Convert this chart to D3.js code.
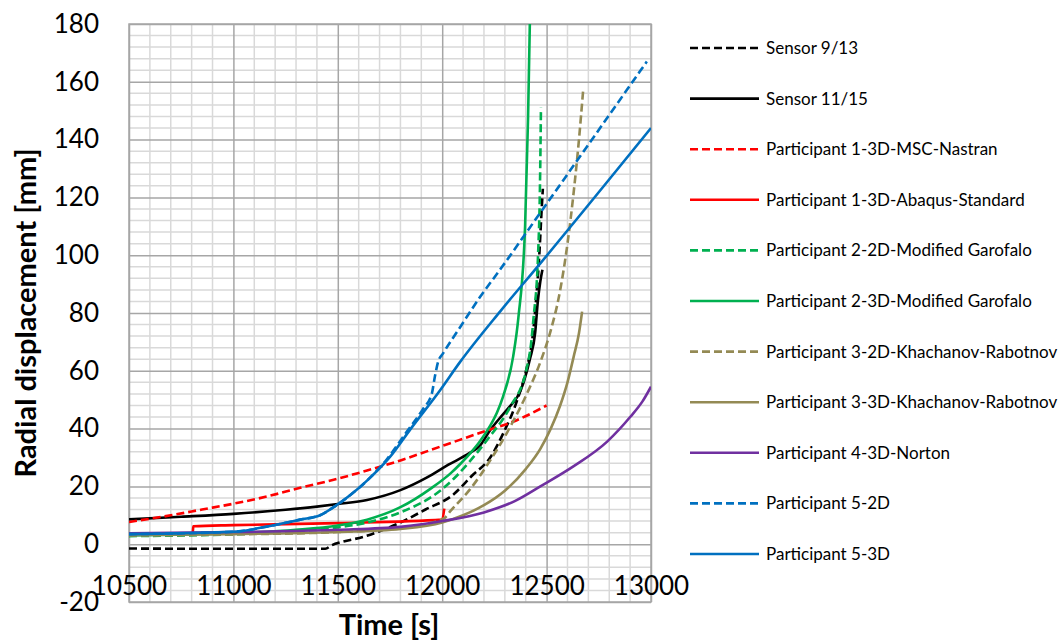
<!DOCTYPE html>
<html>
<head>
<meta charset="utf-8">
<script src="https://cdn.jsdelivr.net/npm/d3@7"></script>
<style>
  html, body { margin: 0; padding: 0; background: #fff; }
  svg { display: block; font-family: Lato, "Open Sans", sans-serif; }
</style>
</head>
<body>
<svg id="chart" width="1061" height="642"></svg>
<script>
// Axis ticks
const xTicks = [10500, 11000, 11500, 12000, 12500, 13000];
const yTicks = [-20, 0, 20, 40, 60, 80, 100, 120, 140, 160, 180];

// Series: [time s, radial displacement mm]
const sensor913 = [[10500,-1.5],[11000,-1.6],[11440,-1.6],[11470,-0.4],[11520,0.8],[11620,2.5],[11700,4.5],[11800,7.5],[11920,12],[12050,17],[12140,23.5],[12230,30],[12290,38],[12360,50],[12405,61],[12430,70],[12450,85],[12465,100],[12475,114],[12482,123]];
const sensor1115 = [[10500,8.6],[10750,9.5],[11000,10.5],[11250,11.9],[11400,13],[11500,13.9],[11640,15.3],[11800,18.7],[11930,23.2],[12030,27.5],[12130,31.5],[12180,34],[12230,39.5],[12280,44],[12310,46.5],[12390,56],[12420,64],[12445,73],[12458,84],[12470,91],[12480,95]];
const p1Nastran = [[10500,7.7],[10700,10],[10850,12],[11000,14],[11160,16.5],[11320,19.5],[11480,22.3],[11640,25.5],[11800,29],[12000,34],[12200,39],[12360,43],[12500,48]];
const p1Abaqus = [[10500,3.8],[10805,3.8],[10808,6.2],[11000,6.6],[11500,7.3],[12000,8.5],[12010,12.3]];
const p2Garofalo2D = [[10500,2.8],[11000,3.4],[11300,4.5],[11500,5.8],[11640,7.5],[11800,11],[11990,18.5],[12060,23],[12130,28.5],[12225,37],[12325,47.4],[12405,61],[12425,69],[12437,78],[12459,100],[12468,123],[12473,151]];
const p2Garofalo3D = [[10500,3],[11000,3.8],[11300,5],[11500,6.5],[11640,8.5],[11800,12.8],[11950,19.5],[12040,24.5],[12090,28],[12135,31.5],[12180,35.5],[12230,41],[12262,45.5],[12291,51],[12340,65],[12365,78.5],[12397,110],[12411,147],[12421,185]];
const p3KR2D = [[10500,3],[11000,3.4],[11500,4.2],[11800,5.6],[11950,7.5],[12010,9],[12040,11.5],[12130,18.7],[12230,29],[12325,40.5],[12405,52],[12470,63],[12520,74],[12560,86],[12600,104],[12630,122],[12655,140],[12675,157]];
const p3KR3D = [[10500,3.2],[11000,3.5],[11500,4.2],[11800,5.3],[12000,7.5],[12100,10],[12200,13.5],[12300,18.5],[12400,26],[12470,33],[12520,40],[12565,48],[12600,56],[12630,65],[12655,73],[12670,80.5]];
const p4Norton = [[10500,3.8],[11000,4.2],[11500,5],[11800,6],[12000,8],[12200,11],[12350,15],[12470,20],[12630,27],[12790,35.5],[12900,44],[12960,49.5],[13000,54.5]];
const p5_2D = [[10500,3.5],[11000,4.3],[11175,6.3],[11320,8.5],[11415,10],[11480,12.8],[11560,17],[11640,22],[11736,29.5],[11831,39],[11910,47],[11950,52],[11965,58],[11980,63],[12004,66],[12085,75],[12181,85.5],[12277,95],[12468,114.5],[12980,167]];
const p5_3D = [[10500,3.5],[11000,4.3],[11175,6.3],[11320,8.5],[11415,10],[11480,12.8],[11560,17],[11640,22],[11750,30.2],[11850,40],[11990,53.3],[12085,63],[12277,80.5],[12468,97],[13000,144]];

const seriesNames = ["Sensor 9/13","Sensor 11/15","Participant 1-3D-MSC-Nastran","Participant 1-3D-Abaqus-Standard","Participant 2-2D-Modified Garofalo","Participant 2-3D-Modified Garofalo","Participant 3-2D-Khachanov-Rabotnov","Participant 3-3D-Khachanov-Rabotnov","Participant 4-3D-Norton","Participant 5-2D","Participant 5-3D"];
const seriesData = [sensor913, sensor1115, p1Nastran, p1Abaqus, p2Garofalo2D, p2Garofalo3D, p3KR2D, p3KR3D, p4Norton, p5_2D, p5_3D];
const seriesColors = ["#000000","#000000","#ff0000","#ff0000","#00b050","#00b050","#948a54","#948a54","#7030a0","#0070c0","#0070c0"];
const seriesDashed = [true,false,true,false,true,false,true,false,false,true,false];

const svg = d3.select("#chart");
const plot = {left: 129, right: 651, top: 24, bottom: 602};

const x = d3.scaleLinear().domain([10500, 13000]).range([plot.left, plot.right]);
const y = d3.scaleLinear().domain([-20, 180]).range([plot.bottom, plot.top]);

// Grid: minor lines every 100 s / 4 mm, major lines at the tick values
const gridG = svg.append("g");
gridG.selectAll("line.xminor").data(d3.range(10500, 13001, 100).filter(v => v % 500 !== 0))
  .join("line").attr("x1", d => x(d)).attr("x2", d => x(d))
  .attr("y1", plot.top).attr("y2", plot.bottom)
  .attr("stroke", "#d9d9d9").attr("stroke-width", 1.5);
gridG.selectAll("line.yminor").data(d3.range(-20, 181, 4).filter(v => v % 20 !== 0))
  .join("line").attr("y1", d => y(d)).attr("y2", d => y(d))
  .attr("x1", plot.left).attr("x2", plot.right)
  .attr("stroke", "#d9d9d9").attr("stroke-width", 1.5);

const xAxisGrid = d3.axisBottom(x).tickValues(xTicks).tickSize(-(plot.bottom - plot.top)).tickFormat("");
const yAxisGrid = d3.axisLeft(y).tickValues(yTicks).tickSize(-(plot.right - plot.left)).tickFormat("");
svg.append("g").attr("transform", `translate(0,${plot.bottom})`).call(xAxisGrid)
  .call(g => g.select(".domain").remove())
  .call(g => g.selectAll("line").attr("stroke", "#a6a6a6").attr("stroke-width", 1.5));
svg.append("g").attr("transform", `translate(${plot.left},0)`).call(yAxisGrid)
  .call(g => g.select(".domain").remove())
  .call(g => g.selectAll("line").attr("stroke", "#a6a6a6").attr("stroke-width", 1.5));

svg.append("rect").attr("x", plot.left).attr("y", plot.top)
  .attr("width", plot.right - plot.left).attr("height", plot.bottom - plot.top)
  .attr("fill", "none").attr("stroke", "#a6a6a6").attr("stroke-width", 1.5);

// Series lines, clipped to the plot area
svg.append("clipPath").attr("id", "plotClip").append("rect")
  .attr("x", plot.left).attr("y", plot.top)
  .attr("width", plot.right - plot.left).attr("height", plot.bottom - plot.top);

const line = d3.line().x(d => x(d[0])).y(d => y(d[1])).curve(d3.curveMonotoneX);
const linesG = svg.append("g").attr("clip-path", "url(#plotClip)");
seriesData.forEach((data, i) => {
  linesG.append("path").datum(data)
    .attr("d", line)
    .attr("fill", "none")
    .attr("stroke", seriesColors[i])
    .attr("stroke-width", 2.6)
    .attr("stroke-linejoin", "round")
    .attr("stroke-dasharray", seriesDashed[i] ? "8,4" : null);
});

// Tick labels (plain hyphen for negatives)
const fmt = d => String(d);
const xLab = d3.axisBottom(x).tickValues(xTicks).tickSize(0).tickPadding(0).tickFormat(fmt);
svg.append("g").attr("transform", "translate(0,595)").call(xLab)
  .call(g => g.select(".domain").remove())
  .call(g => g.selectAll("text").attr("y", 0).attr("dy", null)
    .attr("font-size", 26).attr("font-family", "Lato, sans-serif").attr("fill", "#000"));

const yLab = d3.axisLeft(y).tickValues(yTicks).tickSize(0).tickPadding(0).tickFormat(fmt);
svg.append("g").attr("transform", "translate(99,0)").call(yLab)
  .call(g => g.select(".domain").remove())
  .call(g => g.selectAll("text").attr("font-size", 26).attr("font-family", "Lato, sans-serif").attr("fill", "#000"));

// Axis titles
svg.append("text").attr("x", 389).attr("y", 635).attr("text-anchor", "middle")
  .attr("font-size", 29).attr("font-weight", "bold").text("Time [s]");
svg.append("text").attr("transform", "translate(36,313) rotate(-90)").attr("text-anchor", "middle")
  .attr("font-size", 29).attr("font-weight", "bold").text("Radial displacement [mm]");

// Legend
const legend = svg.append("g");
seriesNames.forEach((name, i) => {
  const ly = 48 + i * 50.6;
  legend.append("line").attr("x1", 690).attr("x2", 759).attr("y1", ly).attr("y2", ly)
    .attr("stroke", seriesColors[i]).attr("stroke-width", 2.6)
    .attr("stroke-dasharray", seriesDashed[i] ? "8,4" : null);
  legend.append("text").attr("x", 766).attr("y", ly).attr("dy", "0.35em")
    .attr("font-size", 17).attr("fill", "#000").text(name);
});
</script>
</body>
</html>
